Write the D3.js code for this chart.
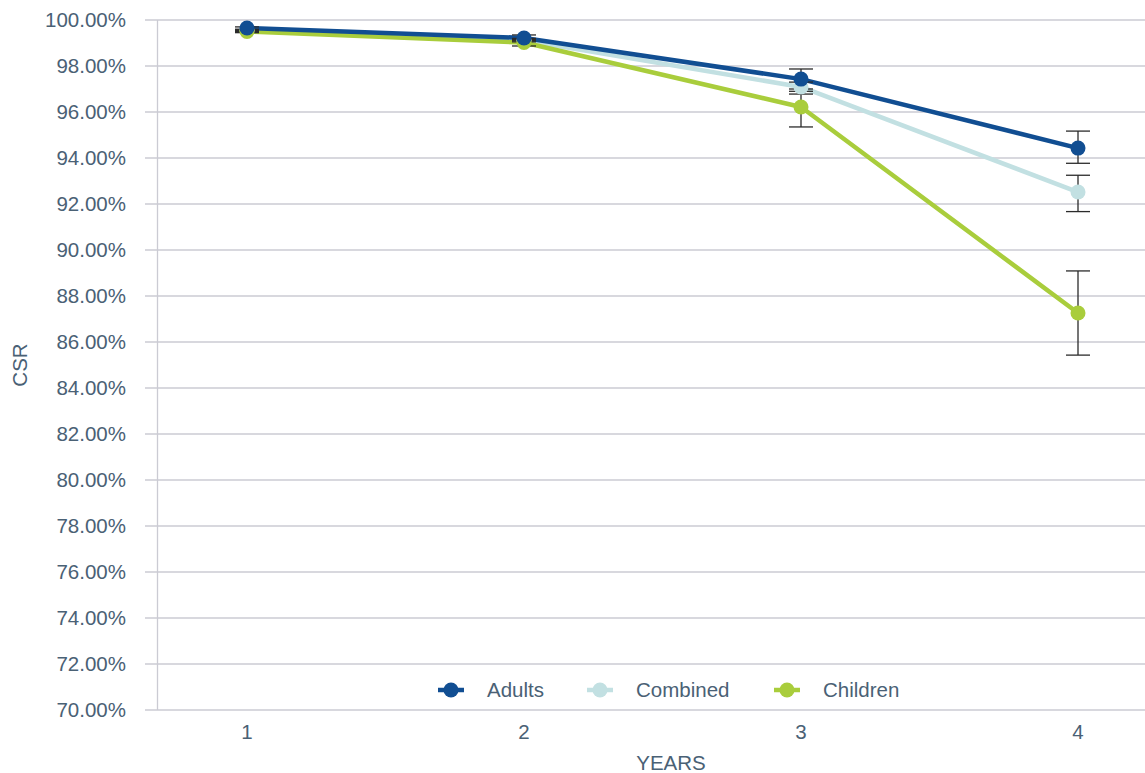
<!DOCTYPE html>
<html><head><meta charset="utf-8">
<script src="https://d3js.org/d3.v7.min.js"></script>
<style>body{margin:0;background:#fff}svg{display:block;font-family:"Liberation Sans",Arial,Helvetica,sans-serif}</style>
</head><body><svg id="c" width="1145" height="773"></svg>
<script>
const years = [1, 2, 3, 4];
const yTicks = [70,72,74,76,78,80,82,84,86,88,90,92,94,96,98,100];
const seriesNames = ["Combined", "Children", "Adults"];
const adults = [99.65, 99.22, 97.43, 94.43];
const adultsLow = [99.55, 99.10, 97.00, 93.77];
const adultsHigh = [99.70, 99.35, 97.87, 95.17];
const combined = [99.55, 99.12, 97.09, 92.52];
const combinedLow = [99.50, 99.05, 96.90, 91.67];
const combinedHigh = [99.60, 99.20, 97.30, 93.25];
const children = [99.50, 99.02, 96.22, 87.26];
const childrenLow = [99.45, 98.87, 95.35, 85.43];
const childrenHigh = [99.58, 99.15, 96.78, 89.09];
const colors = {Adults:"#114e92", Combined:"#c2e0e2", Children:"#a9cd3c"};
const legendOrder = ["Adults","Combined","Children"];

const data = {
  Adults:{v:adults, lo:adultsLow, hi:adultsHigh},
  Combined:{v:combined, lo:combinedLow, hi:combinedHigh},
  Children:{v:children, lo:childrenLow, hi:childrenHigh}
};

const svg = d3.select("#c");
const textColor = "#4a6175";
const fs = 20.5;
const x = d3.scalePoint().domain(years).range([247,1078]);
const y = d3.scaleLinear().domain([70,100]).range([710,20]);

// gridlines
svg.append("g").selectAll("line").data(yTicks).join("line")
  .attr("x1",145).attr("x2",1145).attr("y1",d=>y(d)).attr("y2",d=>y(d))
  .attr("stroke","#cbcbd3").attr("stroke-width",1.3);
svg.append("line").attr("x1",157.5).attr("x2",157.5).attr("y1",20).attr("y2",710)
  .attr("stroke","#cbcbd3").attr("stroke-width",1.3);

// y labels
svg.append("g").selectAll("text").data(yTicks).join("text")
  .attr("x",126).attr("y",d=>y(d)).attr("dy","0.35em").attr("text-anchor","end")
  .attr("font-size",fs).attr("fill",textColor)
  .text(d=>d3.format(".2f")(d)+"%");
// x labels
svg.append("g").selectAll("text").data(years).join("text")
  .attr("x",d=>x(d)).attr("y",739).attr("text-anchor","middle")
  .attr("font-size",fs).attr("fill",textColor).text(d=>d);

svg.append("text").attr("transform","translate(27,365) rotate(-90)")
  .attr("text-anchor","middle").attr("font-size",fs).attr("fill",textColor).text("CSR");
svg.append("text").attr("x",671).attr("y",770).attr("text-anchor","middle")
  .attr("font-size",fs).attr("fill",textColor).text("YEARS");

const line = d3.line().x((d,i)=>x(years[i])).y(d=>y(d));
seriesNames.forEach(n=>{
  svg.append("path").datum(data[n].v).attr("d",line).attr("fill","none")
    .attr("stroke",colors[n]).attr("stroke-width",4.5).attr("stroke-linejoin","round");
});
// error bars
seriesNames.forEach(n=>{
  const g = svg.append("g").attr("stroke","#2b2b2b").attr("stroke-width",1.3);
  years.forEach((yr,i)=>{
    const cx = x(yr), lo = y(data[n].lo[i]), hi = y(data[n].hi[i]);
    g.append("line").attr("x1",cx).attr("x2",cx).attr("y1",lo).attr("y2",hi);
    g.append("line").attr("x1",cx-12).attr("x2",cx+12).attr("y1",lo).attr("y2",lo);
    g.append("line").attr("x1",cx-12).attr("x2",cx+12).attr("y1",hi).attr("y2",hi);
  });
});
seriesNames.forEach(n=>{
  svg.append("g").selectAll("circle").data(data[n].v).join("circle")
    .attr("cx",(d,i)=>x(years[i])).attr("cy",d=>y(d)).attr("r",7.5).attr("fill",colors[n]);
});

// legend
const legX = [451, 600, 787];
legendOrder.forEach((n,i)=>{
  const g = svg.append("g").attr("transform",`translate(${legX[i]},690)`);
  g.append("line").attr("x1",-13).attr("x2",13).attr("stroke",colors[n]).attr("stroke-width",4.5);
  g.append("circle").attr("r",7.5).attr("fill",colors[n]);
  g.append("text").attr("x",36).attr("dy","0.35em").attr("font-size",fs).attr("fill",textColor).text(n);
});
</script></body></html>
